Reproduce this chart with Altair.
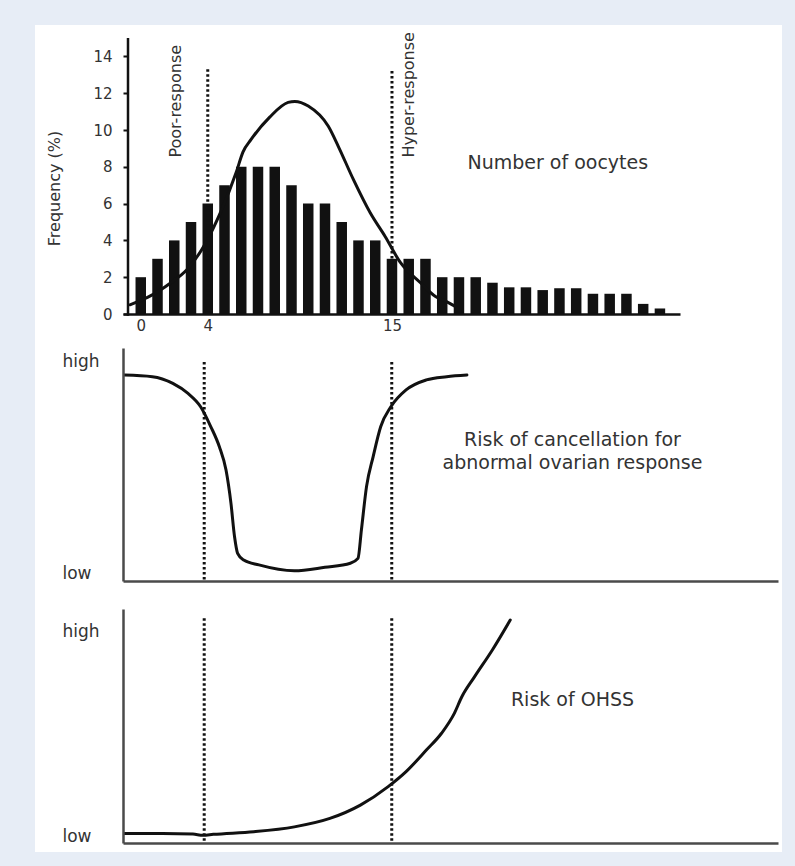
import altair as alt
import pandas as pd

# ---------------- data ----------------
oocytes = list(range(32))
frequency = [2, 3, 4, 5, 6, 7, 8, 8, 8, 7, 6, 6, 5, 4, 4, 3,
             3, 3, 2, 2, 2, 1.7, 1.45, 1.45, 1.3, 1.4, 1.4, 1.1, 1.1, 1.1, 0.55, 0.3]

fit_x = [-0.65, 0.4, 1.8, 2.75, 3.9, 4.8, 5.7, 6.1, 6.6, 7.7, 8.8, 9.2, 10.0,
         11.2, 11.8, 12.7, 13.7, 14.6, 15.5, 16.7, 17.6, 18.2, 18.8]
fit_y = [0.5, 0.9, 1.7, 2.4, 3.9, 5.6, 7.7, 8.8, 9.5, 10.7, 11.5, 11.55, 11.3,
         10.2, 9.1, 7.3, 5.5, 4.2, 2.8, 1.7, 0.95, 0.7, 0.4]

cancel_x = [-0.68, 0.96, 2.16, 3.05, 3.79, 4.39, 4.89, 5.28, 5.57, 5.78, 5.96, 6.32, 7.21,
            9.29, 11.08, 12.57, 13.02, 13.22, 13.52, 13.91, 14.35, 14.95, 15.84, 17.03, 18.22, 19.41]
cancel_y = [88.4, 87.7, 84.8, 80.5, 74.8, 66.2, 57.6, 47.6, 33.3, 19.0, 11.9, 9.0, 6.9,
            4.4, 5.9, 7.6, 9.7, 21.9, 40.5, 53.4, 66.2, 74.8, 82.0, 86.3, 87.7, 88.4]

ohss_x = [-0.68, 1.55, 3.34, 3.93, 4.53, 6.91, 9.29, 11.37, 13.16, 14.79, 15.84,
          17.03, 17.92, 18.67, 19.11, 19.86, 20.9, 21.95]
ohss_y = [4.1, 4.1, 3.8, 3.3, 3.7, 4.8, 6.9, 10.5, 16.2, 24.1, 30.5,
          39.7, 46.9, 55.4, 62.5, 71.1, 82.5, 95.3]

cutoffs = [4, 15]
cutoff_names = ["Poor-response", "Hyper-response"]
cutoff_top_freq = [13.3, 13.2]
cutoff_top_cancel = [94, 94]
cutoff_top_ohss = [96, 96]

x_tick_values = [0, 4, 15]
freq_tick_values = [0, 2, 4, 6, 8, 10, 12, 14]
cancel_levels = [3.4, 94]
ohss_levels = [2.6, 90.2]

title_top = "Number of oocytes"
cancel_text = ["Risk of cancellation for", "abnormal ovarian response"]
ohss_text = "Risk of OHSS"

# ---------------- tables ----------------
bar_df = pd.DataFrame({"x": oocytes, "y": frequency})
fit_df = pd.DataFrame({"x": fit_x, "y": fit_y})
cancel_df = pd.DataFrame({"x": cancel_x, "y": cancel_y})
ohss_df = pd.DataFrame({"x": ohss_x, "y": ohss_y})
cut_top_df = pd.DataFrame({"x": cutoffs, "y": cutoff_top_freq, "y2": [0, 0]})
cut_mid_df = pd.DataFrame({"x": cutoffs, "y": cutoff_top_cancel, "y2": [0, 0]})
cut_bot_df = pd.DataFrame({"x": cutoffs, "y": cutoff_top_ohss, "y2": [0, 0]})
one = pd.DataFrame({"k": [0]})

FONT = "DejaVu Sans"
INK = "#111111"
TXT = "#333333"
GREY = "#4a4a4a"

xs_top = alt.Scale(domain=[-0.7625, 31.9], nice=False, zero=False)
ys_top = alt.Scale(domain=[-0.326, 15], nice=False, zero=False)
xs_low = alt.Scale(domain=[-0.7625, 37.654], nice=False, zero=False)
ys_risk = alt.Scale(domain=[0, 100], nice=False, zero=False)

dotted = dict(strokeDash=[2.5, 2.5], strokeWidth=3, color=INK)
curve = dict(color=INK, strokeWidth=3, interpolate="monotone", strokeCap="round", strokeJoin="round")

# ---------------- top panel ----------------
panel_bg = alt.Chart(one).mark_rect(color="white").encode(
    x=alt.value(-88), x2=alt.value(659), y=alt.value(-13), y2=alt.value(814)
)

bars = alt.Chart(bar_df).mark_bar(width=10.5, color=INK).encode(
    x=alt.X("x:Q", scale=xs_top,
            axis=alt.Axis(values=x_tick_values, ticks=False, labelPadding=4, labelFontSize=15,
                          labelColor=TXT, labelFont=FONT, domainColor=INK, domainWidth=2.5,
                          offset=-6, title=None, grid=False, labelFlush=False, zindex=1)),
    y=alt.Y("y:Q", scale=ys_top,
            axis=alt.Axis(values=freq_tick_values, domain=False, tickSize=5, tickColor=INK,
                          tickWidth=2, labelPadding=11, labelFontSize=15, labelColor=TXT,
                          labelFont=FONT, title="Frequency (%)", titleFont=FONT,
                          titleFontSize=16, titleFontWeight="normal", titleColor=TXT,
                          titlePadding=30, titleY=150, offset=-5, grid=False, zindex=1)),
)

yaxis_line = alt.Chart(one).mark_rule(color=INK, strokeWidth=2.5).encode(
    x=alt.value(5), y=alt.datum(15), y2=alt.datum(-0.1)
)

fit_line = alt.Chart(fit_df).mark_line(**curve).encode(x="x:Q", y="y:Q")

cut_top = alt.Chart(cut_top_df).mark_rule(**dotted).encode(x="x:Q", y="y:Q", y2="y2:Q")

txt_style = dict(font=FONT, color=TXT)
poor_lbl = alt.Chart(one).mark_text(text=cutoff_names[0], angle=270, align="left",
                                    baseline="middle", fontSize=16, **txt_style).encode(
    x=alt.datum(2.1), y=alt.datum(8.5))
hyper_lbl = alt.Chart(one).mark_text(text=cutoff_names[1], angle=270, align="left",
                                     baseline="middle", fontSize=16, **txt_style).encode(
    x=alt.datum(16.0), y=alt.datum(8.5))
top_lbl = alt.Chart(one).mark_text(text=title_top, align="center", baseline="middle",
                                   fontSize=19, **txt_style).encode(
    x=alt.datum(24.9), y=alt.datum(8.2))

top = alt.layer(panel_bg, bars, yaxis_line, fit_line, cut_top, poor_lbl, hyper_lbl, top_lbl).properties(
    width=557, height=282)

# ---------------- middle panel ----------------
def risk_axis(levels):
    return alt.Axis(values=levels, labelExpr="datum.value > 50 ? 'high' : 'low'", ticks=False,
                    labelAlign="left", labelBaseline="middle", labelPadding=61, labelFontSize=17,
                    labelColor=TXT, labelFont=FONT, domainColor=GREY, domainWidth=2.5,
                    title=None, grid=False, zindex=1)

x_plain = alt.Axis(labels=False, ticks=False, title=None, domainColor=GREY, domainWidth=2.5,
                   grid=False, zindex=1)

cancel_line = alt.Chart(cancel_df).mark_line(**curve).encode(
    x=alt.X("x:Q", scale=xs_low, axis=x_plain),
    y=alt.Y("y:Q", scale=ys_risk, axis=risk_axis(cancel_levels)),
)
cut_mid = alt.Chart(cut_mid_df).mark_rule(**dotted).encode(x="x:Q", y="y:Q", y2="y2:Q")
cancel_lbl1 = alt.Chart(one).mark_text(text=cancel_text[0], align="center", baseline="middle",
                                       fontSize=19, **txt_style).encode(
    x=alt.datum(25.6), y=alt.datum(60.5))
cancel_lbl2 = alt.Chart(one).mark_text(text=cancel_text[1], align="center", baseline="middle",
                                       fontSize=19, **txt_style).encode(
    x=alt.datum(25.6), y=alt.datum(50.8))

mid = alt.layer(cancel_line, cut_mid, cancel_lbl1, cancel_lbl2).properties(width=655, height=233)

# ---------------- bottom panel ----------------
ohss_line = alt.Chart(ohss_df).mark_line(**curve).encode(
    x=alt.X("x:Q", scale=xs_low, axis=x_plain),
    y=alt.Y("y:Q", scale=ys_risk, axis=risk_axis(ohss_levels)),
)
cut_bot = alt.Chart(cut_bot_df).mark_rule(**dotted).encode(x="x:Q", y="y:Q", y2="y2:Q")
ohss_lbl = alt.Chart(one).mark_text(text=ohss_text, align="center", baseline="middle",
                                    fontSize=19, **txt_style).encode(
    x=alt.datum(25.6), y=alt.datum(61.1))

bot = alt.layer(ohss_line, cut_bot, ohss_lbl).properties(width=655, height=234)

chart = alt.vconcat(top, mid, bot, spacing=28, bounds="flush").properties(
    padding={"left": 35, "top": 25, "right": 13, "bottom": 14},
    background="#e7edf6",
).configure_view(strokeWidth=0)

chart.save("out.html", embed_options={"renderer": "svg", "actions": False})
